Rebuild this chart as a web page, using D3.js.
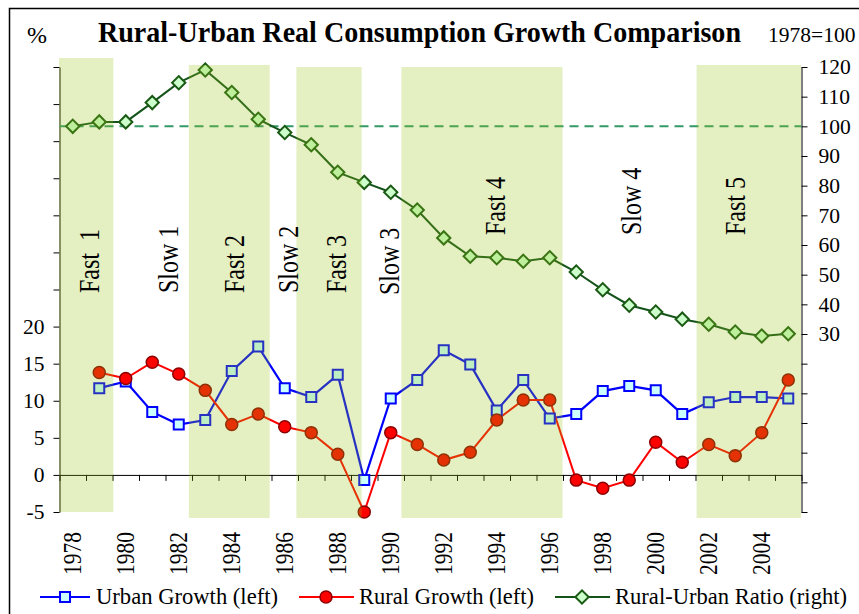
<!DOCTYPE html>
<html>
<head>
<meta charset="utf-8">
<script src="https://cdn.jsdelivr.net/npm/d3@7"></script>
<style>
  body { margin: 0; background: #fff; }
  svg { display: block; font-family: "Liberation Serif", "Times New Roman", serif; }
</style>
</head>
<body>
<svg id="chart" width="859" height="614"></svg>
<script>
// ---- data ----
const years = [1978, 1979, 1980, 1981, 1982, 1983, 1984, 1985, 1986, 1987, 1988, 1989, 1990, 1991,
               1992, 1993, 1994, 1995, 1996, 1997, 1998, 1999, 2000, 2001, 2002, 2003, 2004, 2005];
const growthYears = years.slice(1);
const urbanGrowth = [11.7, 12.6, 8.5, 6.8, 7.4, 14.0, 17.3, 11.7, 10.5, 13.5, -0.7, 10.3, 12.8,
                     16.8, 14.9, 8.7, 12.8, 7.6, 8.2, 11.3, 12.0, 11.4, 8.2, 9.8, 10.5, 10.5, 10.3];
const ruralGrowth = [13.8, 13.0, 15.2, 13.6, 11.4, 6.8, 8.2, 6.5, 5.7, 2.8, -5.0, 5.7, 4.1,
                     2.0, 3.05, 7.4, 10.1, 10.1, -0.7, -1.8, -0.7, 4.4, 1.7, 4.1, 2.6, 5.7, 12.8];
const ratioIndex = [100, 101.5, 101.5, 108, 114.7, 119, 111.4, 102.4, 97.9, 93.8, 84.5, 81.1, 77.8, 71.8,
                    62.4, 56.2, 55.7, 54.5, 55.7, 50.9, 44.9, 39.7, 37.4, 35, 33.3, 30.7, 29.3, 30.1];
const ratioBase = 100;

const leftTicks = [-5, 0, 5, 10, 15, 20, 25, 30, 35, 40, 45, 50, 55];
const leftLabelled = [-5, 0, 5, 10, 15, 20];
const rightTicks = [-30, -20, -10, 0, 10, 20, 30, 40, 50, 60, 70, 80, 90, 100, 110, 120];
const rightLabelled = [30, 40, 50, 60, 70, 80, 90, 100, 110, 120];
const yearLabels = [1978, 1980, 1982, 1984, 1986, 1988, 1990, 1992, 1994, 1996, 1998, 2000, 2002, 2004];

// growth phases (fast periods are shaded), given as year boundaries
const fastStart = [1978, 1982.9, 1986.96, 1990.92, 2002.06];
const fastEnd   = [1980.05, 1985.95, 1989.42, 1997.0, 2006];
const phaseNames = ["Fast\u00a0\u00a01", "Slow 1", "Fast 2", "Slow 2", "Fast 3", "Slow 3", "Fast 4", "Slow 4", "Fast 5"];
const phaseCentre = [1979.08, 1982.06, 1984.55, 1986.62, 1988.4, 1990.4, 1994.43, 1999.53, 2003.49];

// ---- layout ----
const plot = { left: 59.5, right: 801.5, top: 67, bottom: 512 };
const bandTop = [58, 65, 67, 67, 65];
const bandBottom = [512, 518, 518, 518, 518];
const phaseLabelBase = [293, 293, 293, 293, 293, 295, 235, 235, 235];

const svg = d3.select("#chart");

const x = d3.scaleBand().domain(years).range([plot.left, plot.right]).padding(0);
const xc = yr => x(yr) + x.bandwidth() / 2;
const xYear = d3.scaleLinear().domain([1978, 2006]).range([plot.left, plot.right]);
const yL = d3.scaleLinear().domain([-5, 55]).range([plot.bottom, plot.top]);
const yR = d3.scaleLinear().domain([-30, 120]).range([plot.bottom, plot.top]);

// outer frame
svg.append("rect").attr("x", 9.5).attr("y", 8.5).attr("width", 1000).attr("height", 1000)
  .attr("fill", "none").attr("stroke", "#000").attr("stroke-width", 1.5);

// titles
svg.append("text").attr("x", 27).attr("y", 43).attr("font-size", 24).text("%");
svg.append("text").attr("x", 98).attr("y", 42).attr("font-size", 29.5).attr("font-weight", "bold")
  .attr("textLength", 643).attr("lengthAdjust", "spacingAndGlyphs")
  .text("Rural-Urban Real Consumption Growth Comparison");
svg.append("text").attr("x", 768).attr("y", 42).attr("font-size", 21.5).text("1978=100");

// left axis
const gL = svg.append("g").attr("transform", `translate(${plot.left},0)`)
  .call(d3.axisLeft(yL).tickValues(leftTicks).tickSize(6).tickSizeOuter(0).tickPadding(9)
    .tickFormat(d => leftLabelled.includes(d) ? d : ""));
// right axis
const gR = svg.append("g").attr("transform", `translate(${plot.right},0)`)
  .call(d3.axisRight(yR).tickValues(rightTicks).tickSize(6).tickSizeOuter(0).tickPadding(11)
    .tickFormat(d => rightLabelled.includes(d) ? d : ""));
[gL, gR].forEach(g => {
  g.attr("font-family", null);
  g.selectAll("text").attr("font-size", 21.5).attr("fill", "#000");
  g.selectAll("line,path").attr("stroke", "#000");
});

// category axis at zero, ticks between categories
const gX = svg.append("g").attr("transform", `translate(0,${yL(0)})`)
  .call(d3.axisBottom(xYear).tickValues(d3.range(1978, 2007)).tickSize(6).tickSizeOuter(0).tickFormat(""));
gX.selectAll("line,path").attr("stroke", "#000");

// year labels below the plot
svg.append("g").selectAll("text").data(yearLabels).join("text")
  .attr("transform", d => `translate(${xc(d)},532) rotate(-90) scale(1,1.15)`)
  .attr("dy", "0.35em").attr("text-anchor", "end").attr("font-size", 21.5)
  .text(d => d);

// base line for ratio index
svg.append("line").attr("x1", plot.left).attr("x2", plot.right)
  .attr("y1", yR(ratioBase)).attr("y2", yR(ratioBase))
  .attr("stroke", "#339966").attr("stroke-width", 2).attr("stroke-dasharray", "9,6");

// series
const ratioLine = d3.line().x((d, i) => xc(years[i])).y(d => yR(d));
const growthLine = d3.line().x((d, i) => xc(growthYears[i])).y(d => yL(d));

svg.append("path").datum(ratioIndex).attr("d", ratioLine)
  .attr("fill", "none").attr("stroke", "#14531a").attr("stroke-width", 2);
svg.append("path").datum(urbanGrowth).attr("d", growthLine)
  .attr("fill", "none").attr("stroke", "#0000ff").attr("stroke-width", 2.2);
svg.append("path").datum(ruralGrowth).attr("d", growthLine)
  .attr("fill", "none").attr("stroke", "#ff0000").attr("stroke-width", 2);

const diamond = d3.symbol().type(d3.symbolSquare).size(88);
const square = d3.symbol().type(d3.symbolSquare).size(100);

svg.append("g").selectAll("path").data(ratioIndex).join("path")
  .attr("d", diamond)
  .attr("transform", (d, i) => `translate(${xc(years[i])},${yR(d)}) rotate(45)`)
  .attr("fill", "#ccffcc").attr("stroke", "#1a5a14").attr("stroke-width", 2);

svg.append("g").selectAll("path").data(urbanGrowth).join("path")
  .attr("d", square)
  .attr("transform", (d, i) => `translate(${xc(growthYears[i])},${yL(d)})`)
  .attr("fill", "#ccffff").attr("stroke", "#0000ff").attr("stroke-width", 2);

svg.append("g").selectAll("circle").data(ruralGrowth).join("circle")
  .attr("cx", (d, i) => xc(growthYears[i])).attr("cy", d => yL(d)).attr("r", 6)
  .attr("fill", "#ff0000").attr("stroke", "#8b0000").attr("stroke-width", 1.5);

// translucent shading for the fast-growth periods
svg.append("g").selectAll("rect").data(fastStart).join("rect")
  .attr("x", d => xYear(d) - 0.5)
  .attr("width", (d, i) => xYear(fastEnd[i]) - xYear(d))
  .attr("y", (d, i) => bandTop[i])
  .attr("height", (d, i) => bandBottom[i] - bandTop[i])
  .attr("fill", "rgb(150,195,20)").attr("fill-opacity", 0.26);

// phase names
svg.append("g").selectAll("text").data(phaseNames).join("text")
  .attr("transform", (d, i) => `translate(${xYear(phaseCentre[i])},${phaseLabelBase[i]}) rotate(-90) scale(1,1.25)`)
  .attr("dy", "0.35em").attr("font-size", 24).attr("fill", "#000")
  .text(d => d);

// legend
const legendY = 597;
const legend = svg.append("g");
function legendLine(x1, x2, colour, w) {
  legend.append("line").attr("x1", x1).attr("x2", x2).attr("y1", legendY).attr("y2", legendY)
    .attr("stroke", colour).attr("stroke-width", w);
}
legendLine(40, 90, "#0000ff", 2);
legend.append("path").attr("d", square).attr("transform", `translate(65,${legendY})`)
  .attr("fill", "#ccffff").attr("stroke", "#0000ff").attr("stroke-width", 2);
legend.append("text").attr("x", 96).attr("y", legendY + 7).attr("font-size", 22.5)
  .attr("textLength", 182).attr("lengthAdjust", "spacingAndGlyphs").text("Urban Growth (left)");

legendLine(299, 354, "#ff0000", 2);
legend.append("circle").attr("cx", 326).attr("cy", legendY).attr("r", 6)
  .attr("fill", "#ff0000").attr("stroke", "#8b0000").attr("stroke-width", 1.5);
legend.append("text").attr("x", 359).attr("y", legendY + 7).attr("font-size", 22.5)
  .attr("textLength", 175).attr("lengthAdjust", "spacingAndGlyphs").text("Rural Growth (left)");

legendLine(555, 610, "#14531a", 2);
legend.append("path").attr("d", diamond).attr("transform", `translate(582,${legendY}) rotate(45)`)
  .attr("fill", "#ccffcc").attr("stroke", "#1a5a14").attr("stroke-width", 2);
legend.append("text").attr("x", 615).attr("y", legendY + 7).attr("font-size", 22.5)
  .attr("textLength", 232).attr("lengthAdjust", "spacingAndGlyphs").text("Rural-Urban Ratio (right)");
</script>
</body>
</html>
